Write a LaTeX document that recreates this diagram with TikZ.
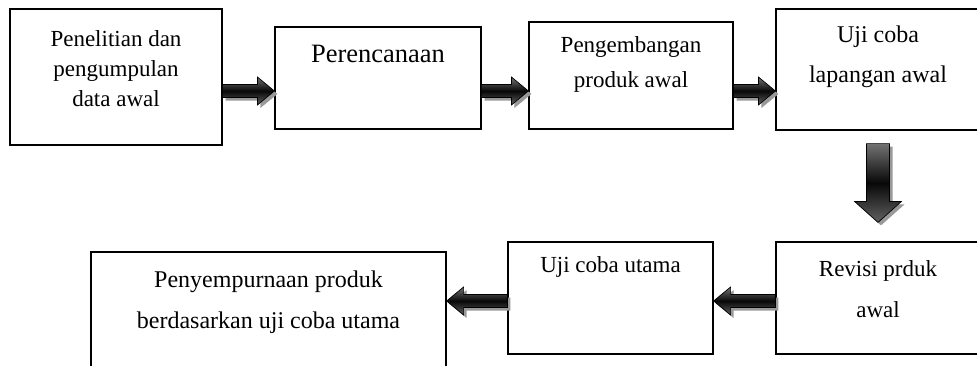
\documentclass[tikz,border=0pt]{standalone}
\usepackage{fontspec}
\setmainfont{Liberation Serif}
\usetikzlibrary{calc}
\tikzset{
  kotak/.style={draw, line width=1.2pt, inner sep=0pt},
  teks/.style={anchor=north, inner sep=0pt, align=center, font=\fontsize{23}{#1}\selectfont},
  teks/.default=30,
  panahbadan/.style={draw=black, line width=0.7pt, top color=black!55, bottom color=black!62, middle color=black!97},
  panahbayang/.style={fill=black!40}
}
\newcommand{\panah}[5]{%
  \path let \p1=(#1), \p2=(#2) in \pgfextra{%
    \pgfmathsetmacro\panjang{veclen(\x2-\x1,\y2-\y1)}%
    \pgfmathsetmacro\sudut{atan2(\y2-\y1,\x2-\x1)}%
    \global\let\panjang\panjang\global\let\sudut\sudut};
  \begin{scope}[shift={(#1)}]
    \fill[panahbayang, shift={(3,-3)}, rotate=\sudut] (0,#3) -- (\panjang-#5,#3) -- (\panjang-#5,#4) -- (\panjang,0)
      -- (\panjang-#5,-#4) -- (\panjang-#5,-#3) -- (0,-#3) -- cycle;
    \shadedraw[panahbadan, rotate=\sudut] (0,#3) -- (\panjang-#5,#3) -- (\panjang-#5,#4) -- (\panjang,0)
      -- (\panjang-#5,-#4) -- (\panjang-#5,-#3) -- (0,-#3) -- cycle;
  \end{scope}}
\begin{document}
\begin{tikzpicture}[x=1pt,y=1pt]
  \useasboundingbox (0,0) rectangle (977,-365);
  \clip (0,0) rectangle (977,-365);

  \node[kotak, minimum width=212pt, minimum height=136pt] (b1) at (116,-77) {};
  \node[kotak, minimum width=206pt, minimum height=102pt] (b2) at (378,-78) {};
  \node[kotak, minimum width=204pt, minimum height=107pt] (b3) at (631,-75.5) {};
  \node[kotak, minimum width=204pt, minimum height=121pt] (b4) at (878,-69.5) {};
  \node[kotak, minimum width=204pt, minimum height=112pt] (b5) at (878,-298) {};
  \node[kotak, minimum width=205pt, minimum height=112pt] (b6) at (610.5,-298) {};
  \node[kotak, minimum width=355pt, minimum height=128pt] (b7) at (268.5,-316) {};

  \node[teks=30] (t1) at ([yshift=-21.5]b1.north) {Penelitian dan\\pengumpulan\\data awal};
  \node[teks, font=\fontsize{26.5}{32}\selectfont] (t2) at ([yshift=-18.5]b2.north) {Perencanaan};
  \node[teks=35] (t3) at ([yshift=-15]b3.north) {Pengembangan\\produk awal};
  \node[teks, font=\fontsize{24}{40}\selectfont] (t4) at ([yshift=-17]b4.north) {Uji coba\\lapangan awal};
  \node[teks=41] (t5) at ([yshift=-19]b5.north) {Revisi prduk\\awal};
  \node[teks] (t6) at ([yshift=-15]b6.north) {Uji coba utama};
  \node[teks, font=\fontsize{24}{41}\selectfont] (t7) at ([yshift=-19]b7.north) {Penyempurnaan produk\\berdasarkan uji coba utama};

  \coordinate (baris1) at (0,-91);
  \coordinate (baris2) at (0,-301);
  \panah{b1.east |- baris1}{b2.west |- baris1}{6.5}{14}{17}
  \panah{b2.east |- baris1}{b3.west |- baris1}{6.5}{14}{17}
  \panah{b3.east |- baris1}{b4.west |- baris1}{6.5}{14}{17}
  \panah{[yshift=-13]b4.south}{[yshift=19]b5.north}{11.5}{23.5}{21}
  \panah{b5.west |- baris2}{b6.east |- baris2}{6.5}{14}{17}
  \panah{b6.west |- baris2}{b7.east |- baris2}{6.5}{14}{17}
\end{tikzpicture}
\end{document}
